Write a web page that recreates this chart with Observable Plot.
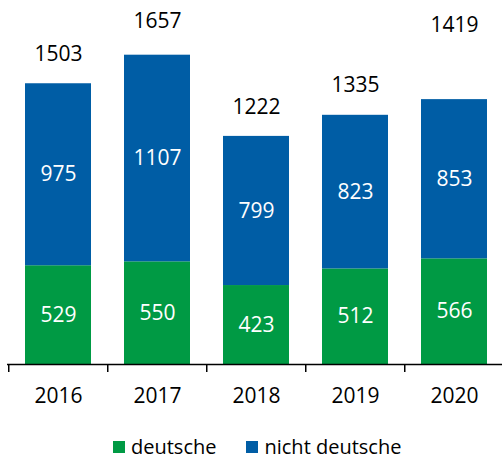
<!DOCTYPE html>
<html>
<head>
<meta charset="utf-8">
<script src="https://cdn.jsdelivr.net/npm/d3@7"></script>
<script src="https://cdn.jsdelivr.net/npm/@observablehq/plot@0.6"></script>
<style>
  body { margin: 0; background: #fff; font-family: "Open Sans", sans-serif; overflow: hidden; }
  #legend { display: flex; align-items: center; margin-top: 11px; margin-left: 113px; font-size: 20px; line-height: 22px; color: #000; }
  .sw { width: 12px; height: 12px; display: inline-block; margin-right: 6px; }
  .item { display: flex; align-items: center; margin-right: 30px; }
</style>
</head>
<body>
<div id="chart"></div>
<div id="legend"></div>
<script>
const years = ["2016", "2017", "2018", "2019", "2020"];
const deutsche = [529, 550, 423, 512, 566];
const nichtDeutsche = [975, 1107, 799, 823, 853];
const totals = [1503, 1657, 1222, 1335, 1419];
const totalLabelPos = [1663, 1839, 1379, 1497, 1815];
const seriesNames = ["deutsche", "nicht deutsche"];
const seriesColors = ["#009A44", "#005DA5"];

const rows = [];
years.forEach((y, i) => {
  rows.push({year: y, group: seriesNames[0], value: deutsche[i]});
  rows.push({year: y, group: seriesNames[1], value: nichtDeutsche[i]});
});
const totalRows = years.map((y, i) => ({year: y, total: totals[i], pos: totalLabelPos[i]}));

const font = "'Open Sans', sans-serif";
const plot = Plot.plot({
  width: 502,
  height: 425,
  marginTop: 0,
  marginBottom: 61,
  marginLeft: 7,
  marginRight: -2.5,
  style: {fontFamily: font, fontSize: "21px", color: "#000", background: "#fff"},
  x: {domain: years, paddingInner: 1/3, paddingOuter: 1/6, label: null},
  y: {domain: [0, 1950], axis: null},
  color: {domain: seriesNames, range: seriesColors},
  marks: [
    Plot.barY(rows, {x: "year", y: "value", fill: "group", order: seriesNames}),
    Plot.text(rows, Plot.stackY({x: "year", y: "value", z: "group", order: seriesNames, text: d => String(d.value), fill: "white", fontSize: 21})),
    Plot.text(totalRows, {x: "year", y: "pos", text: d => String(d.total), fill: "black", fontSize: 21}),
    Plot.ruleY([0], {stroke: "#000", strokeWidth: 1.7}),
    Plot.ruleX(years, {x: d => d, y1: 0, y2: -43, dx: -49.75, stroke: "#000", strokeWidth: 1.5}),
    Plot.axisX({tickSize: 0, tickPadding: 24, fontSize: 21, label: null})
  ]
});
document.getElementById("chart").appendChild(plot);

const legend = document.getElementById("legend");
seriesNames.forEach((n, i) => {
  const item = document.createElement("span");
  item.className = "item";
  const sw = document.createElement("span");
  sw.className = "sw";
  sw.style.background = seriesColors[i];
  item.appendChild(sw);
  item.appendChild(document.createTextNode(n));
  legend.appendChild(item);
});
</script>
</body>
</html>
